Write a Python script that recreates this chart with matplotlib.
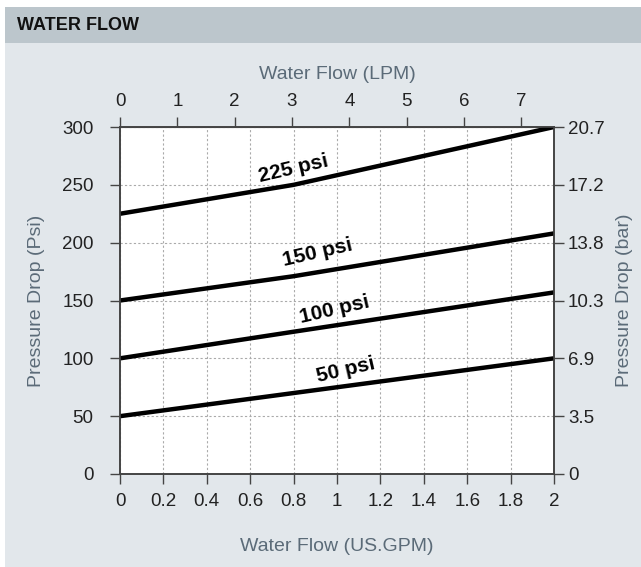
import matplotlib.pyplot as plt
from matplotlib.patches import Rectangle

plt.rcParams['font.family'] = ['Liberation Sans', 'DejaVu Sans']

# flow in US GPM, pressure drop in psi
flow_gpm = [0, 0.8, 2]
curves = {
    "50 psi": [50, 70, 100],
    "100 psi": [100, 123, 157],
    "150 psi": [150, 171, 208],
    "225 psi": [225, 250, 300],
}
# label anchor (gpm, psi) for each curve
label_pos = {
    "225 psi": (0.80, 264),
    "150 psi": (0.91, 191),
    "100 psi": (0.99, 142),
    "50 psi": (1.04, 90),
}
gpm_ticks = [0, 0.2, 0.4, 0.6, 0.8, 1, 1.2, 1.4, 1.6, 1.8, 2]
gpm_labels = ["0", "0.2", "0.4", "0.6", "0.8", "1", "1.2", "1.4", "1.6", "1.8", "2"]
lpm_ticks = [0, 1, 2, 3, 4, 5, 6, 7]
psi_ticks = [0, 50, 100, 150, 200, 250, 300]
bar_labels = ["0", "3.5", "6.9", "10.3", "13.8", "17.2", "20.7"]

GPM_TO_LPM = 3.785
label_col = "#5b6b78"
tick_col = "#222222"
axis_col = "#444444"
TS = 13.5   # tick label size
LS = 14     # axis label size

fig = plt.figure(figsize=(6.41, 5.67), dpi=100)
fig.patch.set_facecolor("white")
fig.add_artist(Rectangle((5 / 641, 0), 1, 1 - 43 / 567, transform=fig.transFigure,
                         facecolor="#e2e7eb", edgecolor="none", zorder=-2))
fig.add_artist(Rectangle((5 / 641, 1 - 43 / 567), 1, 36 / 567, transform=fig.transFigure,
                         facecolor="#bcc6cc", edgecolor="none", zorder=-1))
fig.text(17 / 641, 1 - 25 / 567, "WATER FLOW", fontsize=13, fontweight="bold",
         color="#111111", va="center", ha="left")

ax = fig.add_axes([120 / 641, 1 - 474 / 567, 434 / 641, 347 / 567])
ax.set_facecolor("white")
ax.set_xlim(0, 2)
ax.set_ylim(0, 300)

for name, vals in curves.items():
    ax.plot(flow_gpm, vals, color="black", lw=3.2, solid_capstyle="butt", zorder=3)
    x, y = label_pos[name]
    ax.text(x, y, name, fontsize=15, fontweight="bold", rotation=13,
            ha="center", va="center", color="black", zorder=4)

ax.set_xticks(gpm_ticks)
ax.set_xticklabels(gpm_labels)
ax.set_yticks(psi_ticks)
ax.grid(True, color="#aaaaaa", ls=(0, (2, 2)), lw=0.8)
ax.set_axisbelow(True)
for s in ax.spines.values():
    s.set_color(axis_col)
    s.set_linewidth(1.2)
ax.tick_params(axis="both", colors=axis_col, labelcolor=tick_col, labelsize=TS,
               length=7, width=1, direction="out")
ax.tick_params(axis="x", pad=7)
ax.tick_params(axis="y", pad=12)
ax.set_xlabel("Water Flow (US.GPM)", fontsize=LS, color=label_col, labelpad=20)
ax.set_ylabel("Pressure Drop (Psi)", fontsize=LS, color=label_col, labelpad=12)

top = ax.secondary_xaxis("top", functions=(lambda g: g * GPM_TO_LPM,
                                           lambda l: l / GPM_TO_LPM))
top.set_xticks(lpm_ticks)
top.tick_params(colors=axis_col, labelcolor=tick_col, labelsize=TS, length=7,
                width=1, pad=5)
top.spines["top"].set_color(axis_col)
top.set_xlabel("Water Flow (LPM)", fontsize=LS, color=label_col, labelpad=10)

right = ax.twinx()
right.set_ylim(0, 300)
right.set_yticks(psi_ticks)
right.set_yticklabels(bar_labels)
right.tick_params(colors=axis_col, labelcolor=tick_col, labelsize=TS, length=7,
                  width=1, pad=3)
for s in right.spines.values():
    s.set_color(axis_col)
    s.set_linewidth(1.2)
right.set_ylabel("Pressure Drop (bar)", fontsize=LS, color=label_col, labelpad=8)

fig.savefig("out.png", dpi=100, facecolor=fig.get_facecolor())
